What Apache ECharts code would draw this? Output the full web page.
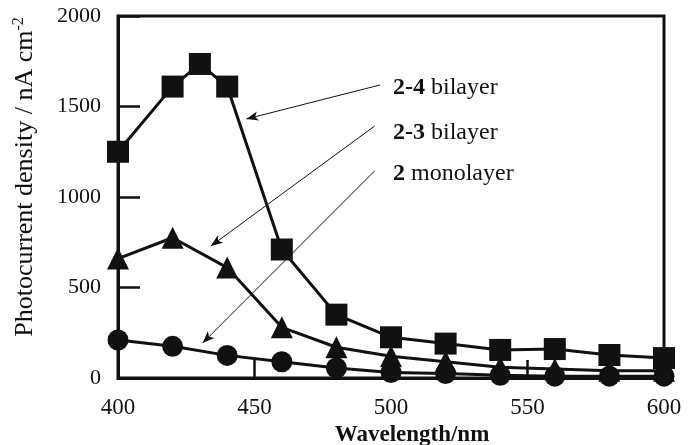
<!DOCTYPE html>
<html><head><meta charset="utf-8">
<script src="https://cdn.jsdelivr.net/npm/echarts@6/dist/echarts.min.js"></script>
<style>html,body{margin:0;padding:0;background:#fff}#c{width:690px;height:445px}</style>
</head><body><div id="c"></div>
<script>
var wavelengths = [400, 420, 430, 440, 460, 480, 500, 520, 540, 560, 580, 600];
var bilayer24 = [1250, 1610, 1735, 1610, 710, 350, 225, 190, 155, 160, 127, 110];
var bilayer23 = [660, 775, null, 610, 280, 170, 120, 90, 60, 50, 40, 40];
var monolayer2 = [210, 175, null, 125, 90, 55, 30, 25, 15, 10, 10, 10];
var xTicks = [400, 450, 500, 550, 600];
var yTicks = [0, 500, 1000, 1500, 2000];
var seriesNames = ['2-4 bilayer', '2-3 bilayer', '2 monolayer'];
// arrows: [fromX, fromY, toX, toY] in data units
var arrows = [
  [496, 1619, 447, 1431],
  [494, 1392, 434, 729],
  [494, 1144, 431, 193]
];

function pairs(vals) {
  var out = [];
  for (var i = 0; i < wavelengths.length; i++) if (vals[i] !== null) out.push([wavelengths[i], vals[i]]);
  return out;
}
var serif = "'Liberation Serif', 'DejaVu Serif', serif";
var ink = '#111';
var chart = echarts.init(document.getElementById('c'));
var markData = arrows.map(function (a) { return [{ coord: [a[0], a[1]] }, { coord: [a[2], a[3]] }]; });
function lbl(bold, rest, top) {
  return { type: 'text', left: 393, top: top, style: { text: '{b|' + bold + '}{r|' + rest + '}',
    rich: { b: { fontFamily: serif, fontSize: 24, fontWeight: 'bold', fill: ink }, r: { fontFamily: serif, fontSize: 24, fill: ink } } } };
}
chart.setOption({
  backgroundColor: '#fff',
  animation: false,
  grid: { left: 118, right: 26, top: 16, bottom: 67, show: true, borderColor: ink, borderWidth: 3, backgroundColor: 'transparent', outerBoundsMode: 'none', containLabel: false },
  xAxis: {
    type: 'value', min: 400, max: 600, interval: 50,
    name: 'Wavelength/nm', nameLocation: 'middle', nameGap: 46,
    nameTextStyle: { fontFamily: serif, fontSize: 23, fontWeight: 'bold', color: ink, padding: [0, 0, 0, 42] },
    axisLine: { lineStyle: { color: ink, width: 3 } },
    axisTick: { inside: true, length: 18, lineStyle: { color: ink, width: 2.5 } },
    axisLabel: { fontFamily: serif, fontSize: 23, color: ink, margin: 18 },
    splitLine: { show: false }
  },
  yAxis: {
    type: 'value', min: 0, max: 2000, interval: 500,
    axisLine: { lineStyle: { color: ink, width: 3 } },
    axisTick: { inside: true, length: 22, lineStyle: { color: ink, width: 2.5 } },
    axisLabel: { fontFamily: serif, fontSize: 22, color: ink, margin: 17, formatter: function (v) { return String(v); } },
    splitLine: { show: false }
  },
  series: [
    { name: seriesNames[0], type: 'line', data: pairs(bilayer24), symbol: 'rect', symbolSize: 22,
      lineStyle: { color: ink, width: 3 }, itemStyle: { color: ink }, z: 5,
      markLine: { silent: true, symbol: ['none', 'arrow'], symbolSize: [7, 12], lineStyle: { color: ink, width: 1, type: 'solid' }, label: { show: false }, data: markData } },
    { name: seriesNames[1], type: 'line', data: pairs(bilayer23), symbol: 'triangle', symbolSize: 22,
      lineStyle: { color: ink, width: 3 }, itemStyle: { color: ink }, z: 4 },
    { name: seriesNames[2], type: 'line', data: pairs(monolayer2), symbol: 'circle', symbolSize: 21,
      lineStyle: { color: ink, width: 3 }, itemStyle: { color: ink }, z: 3 }
  ],
  graphic: [
    lbl('2-4', ' bilayer', 76),
    lbl('2-3', ' bilayer', 121),
    lbl('2', ' monolayer', 162),
    { type: 'text', x: 25, y: 177, rotation: Math.PI / 2,
      style: { text: '{n|Photocurrent density / nA cm}{s|-2}', align: 'center', verticalAlign: 'middle',
        rich: { n: { fontFamily: serif, fontSize: 26, fill: ink }, s: { fontFamily: serif, fontSize: 16, fill: ink, verticalAlign: 'top', padding: [0, 0, 13, 0] } } } }
  ]
});
</script></body></html>
